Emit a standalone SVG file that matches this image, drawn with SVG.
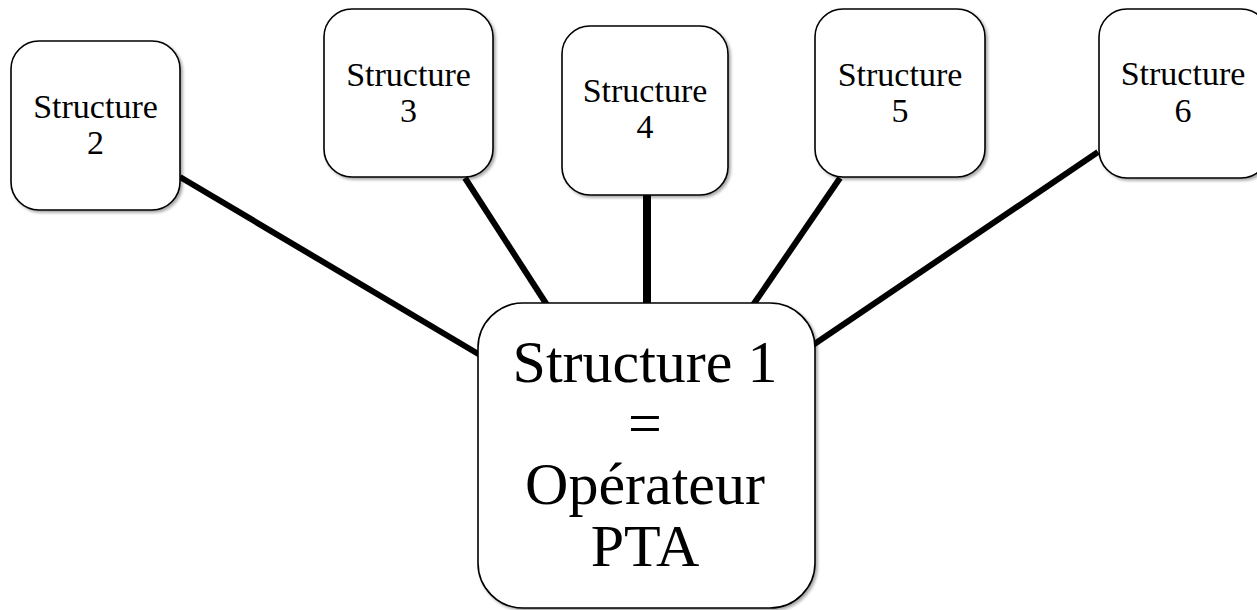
<svg xmlns="http://www.w3.org/2000/svg" width="1257" height="610" viewBox="0 0 1257 610">
  <defs>
    <filter id="sh" x="-10%" y="-10%" width="125%" height="125%">
      <feGaussianBlur in="SourceAlpha" stdDeviation="1.5"/>
      <feOffset dx="1.5" dy="1.5" result="b"/>
      <feComponentTransfer><feFuncA type="linear" slope="0.35"/></feComponentTransfer>
      <feMerge><feMergeNode/><feMergeNode in="SourceGraphic"/></feMerge>
    </filter>
  </defs>
  <style>
    .box { fill: #ffffff; stroke: #000000; stroke-width: 1.6; filter: url(#sh); }
    .lbl { font-family: 'Liberation Serif', 'Times New Roman', 'DejaVu Serif', serif; font-size: 34px; fill: #000000; text-anchor: middle; }
    .big { font-family: 'Liberation Serif', 'Times New Roman', 'DejaVu Serif', serif; font-size: 60px; fill: #000000; text-anchor: middle; }
    .con { stroke: #000000; stroke-width: 6; fill: none; }
  </style>
  <rect width="1257" height="610" fill="#ffffff"/>
  <g id="connectors">
    <line class="con" x1="180" y1="177" x2="480" y2="355"/>
    <line class="con" x1="465" y1="178" x2="547" y2="305"/>
    <line class="con" x1="647" y1="195" x2="647" y2="305" style="stroke-width:8"/>
    <line class="con" x1="840" y1="178" x2="753" y2="305"/>
    <line class="con" x1="1098" y1="152" x2="813" y2="345"/>
  </g>
  <g id="node2">
    <rect class="box" x="11" y="41" width="169" height="169" rx="28"/>
    <text class="lbl" x="95.5" y="118">Structure</text>
    <text class="lbl" x="95.5" y="154">2</text>
  </g>
  <g id="node3">
    <rect class="box" x="324" y="9" width="169" height="168" rx="28"/>
    <text class="lbl" x="408.5" y="86">Structure</text>
    <text class="lbl" x="408.5" y="122">3</text>
  </g>
  <g id="node4">
    <rect class="box" x="562" y="26" width="166" height="169" rx="28"/>
    <text class="lbl" x="645" y="102">Structure</text>
    <text class="lbl" x="645" y="138">4</text>
  </g>
  <g id="node5">
    <rect class="box" x="815" y="9" width="170" height="168" rx="28"/>
    <text class="lbl" x="900" y="86">Structure</text>
    <text class="lbl" x="900" y="122">5</text>
  </g>
  <g id="node6">
    <rect class="box" x="1099" y="9" width="170" height="169" rx="28"/>
    <text class="lbl" x="1183" y="85">Structure</text>
    <text class="lbl" x="1183" y="122">6</text>
  </g>
  <g id="node1">
    <rect class="box" x="478" y="303" width="337" height="305" rx="45"/>
    <text class="big" x="645" y="382">Structure 1</text>
    <text class="big" x="645" y="443">=</text>
    <text class="big" x="645" y="504">Opérateur</text>
    <text class="big" x="645" y="566">PTA</text>
  </g>
</svg>
